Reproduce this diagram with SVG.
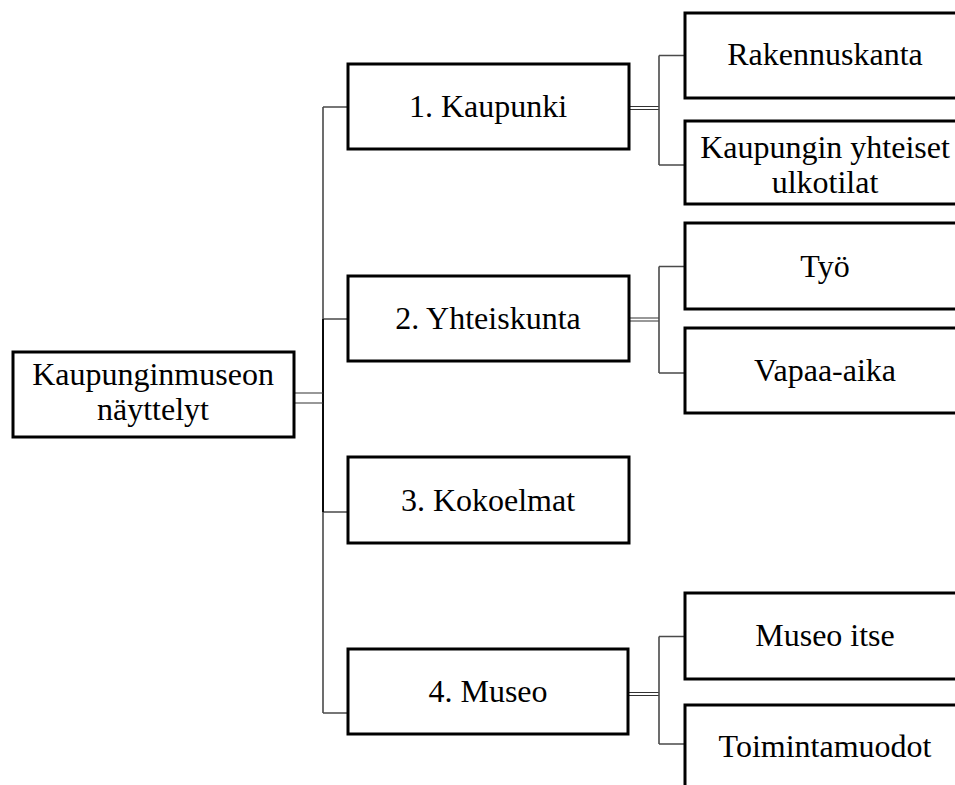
<svg xmlns="http://www.w3.org/2000/svg" width="955" height="785" viewBox="0 0 955 785">
<style>
.box{fill:#fff;stroke:#000;stroke-width:3}
.t{font-family:"Liberation Serif","Times New Roman",serif;font-size:32px;fill:#000;text-anchor:middle}
.c{fill:none;stroke:#4a4a4a;stroke-width:1.6}
.d{fill:none;stroke:#333;stroke-width:1.2}
</style>
<rect width="955" height="785" fill="#fff"/>
<g id="connectors">
<path class="c" d="M323,107 V713 M323,107 H348 M323,319 H348 M323,512 H348 M323,713 H348"/>
<path d="M323,319 V512" stroke="#000" stroke-width="1.8" fill="none"/>
<path class="d" d="M294,393 H323 M294,403 H323"/>
<path class="d" d="M629,106.5 H659 M629,109.5 H659"/>
<path class="d" d="M629,318 H659 M629,321 H659"/>
<path class="d" d="M628,692.5 H659 M628,695.5 H659"/>
<path class="c" d="M659,55.5 V165 M659,55.5 H685 M659,165 H685"/>
<path class="c" d="M659,266.5 V373 M659,266.5 H685 M659,373 H685"/>
<path class="c" d="M659,636.5 V744 M659,636.5 H685 M659,744 H685"/>
</g>
<g id="root">
<rect class="box" x="13" y="352" width="281" height="85"/>
<text class="t" x="153" y="385">Kaupunginmuseon</text>
<text class="t" x="153" y="420">näyttelyt</text>
</g>
<g id="n1">
<rect class="box" x="348" y="64" width="281" height="85"/>
<text class="t" x="488" y="117">1. Kaupunki</text>
</g>
<g id="n2">
<rect class="box" x="348" y="276" width="281" height="85"/>
<text class="t" x="488" y="329">2. Yhteiskunta</text>
</g>
<g id="n3">
<rect class="box" x="348" y="457" width="281" height="86"/>
<text class="t" x="488" y="511">3. Kokoelmat</text>
</g>
<g id="n4">
<rect class="box" x="348" y="649" width="280" height="85"/>
<text class="t" x="488" y="702">4. Museo</text>
</g>
<g id="n1a">
<rect class="box" x="685" y="13" width="280" height="85"/>
<text class="t" x="825" y="65">Rakennuskanta</text>
</g>
<g id="n1b">
<rect class="box" x="685" y="121" width="280" height="83"/>
<text class="t" x="825" y="158">Kaupungin yhteiset</text>
<text class="t" x="825" y="193">ulkotilat</text>
</g>
<g id="n2a">
<rect class="box" x="685" y="223" width="280" height="86"/>
<text class="t" x="825" y="277">Työ</text>
</g>
<g id="n2b">
<rect class="box" x="685" y="328" width="280" height="85"/>
<text class="t" x="825" y="381">Vapaa-aika</text>
</g>
<g id="n4a">
<rect class="box" x="685" y="593" width="280" height="86"/>
<text class="t" x="825" y="646">Museo itse</text>
</g>
<g id="n4b">
<rect class="box" x="685" y="705" width="280" height="86"/>
<text class="t" x="825" y="757">Toimintamuodot</text>
</g>
</svg>
